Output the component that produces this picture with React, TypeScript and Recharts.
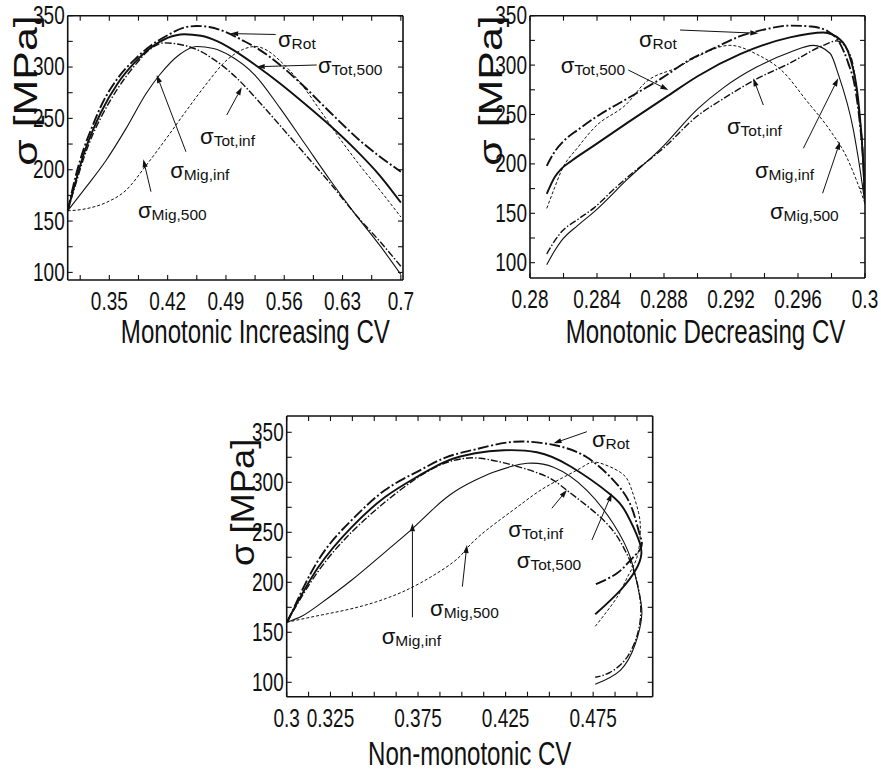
import React from "react";
import { LineChart, Line, XAxis, YAxis, ReferenceLine, ReferenceDot } from "recharts";

type Pt = [number, number];

// ---------- Monotonic increasing CV (x: CV, y: sigma MPa) ----------
const incRot: Pt[] = [[0.3,160],[0.31,195],[0.32,222],[0.33,243],[0.34,262],[0.36,289],[0.38,307],[0.4,321],[0.42,331],[0.44,338.5],[0.455,340],[0.47,339],[0.49,334],[0.51,326],[0.53,317],[0.555,302],[0.58,284],[0.615,256],[0.65,229],[0.7,198]];
const incTot500: Pt[] = [[0.3,160],[0.31,190],[0.32,217],[0.33,238],[0.34,256],[0.36,284],[0.38,304],[0.4,319],[0.42,328.5],[0.44,332],[0.46,330.5],[0.48,325],[0.5,316],[0.527,301],[0.555,284],[0.585,264],[0.615,243],[0.645,220],[0.675,194],[0.7,168]];
const incTotInf: Pt[] = [[0.3,160],[0.31,187],[0.32,213],[0.33,234],[0.34,251],[0.36,279],[0.38,301],[0.4,318],[0.415,323.5],[0.435,322],[0.455,317],[0.478,306],[0.502,290],[0.53,266],[0.555,243],[0.585,215],[0.615,187],[0.645,157],[0.675,130],[0.7,106]];
const incMigInf: Pt[] = [[0.3,160],[0.322,183],[0.346,209],[0.37,240],[0.394,274],[0.41,292],[0.434,312],[0.455,320],[0.475,318],[0.495,311],[0.525,292],[0.555,260],[0.585,225],[0.615,190],[0.645,157],[0.675,126],[0.7,98]];
const incMig500: Pt[] = [[0.3,160],[0.322,162],[0.346,168],[0.37,180],[0.394,204],[0.418,230],[0.442,257],[0.466,283],[0.49,306],[0.51,317],[0.525,320],[0.54,316],[0.555,306],[0.579,285],[0.603,258],[0.627,230],[0.651,204],[0.675,180],[0.7,154]];

// ---------- Monotonic decreasing CV ----------
const decRot: Pt[] = [[0.281,198],[0.2815,213],[0.282,223],[0.2829,235],[0.2839,247],[0.2858,266],[0.2878,286],[0.2896,306],[0.2911,318],[0.2925,329],[0.294,336],[0.2955,340],[0.2968,339],[0.2978,334],[0.2985,322],[0.299,302],[0.2994,278],[0.2997,240],[0.2999,200],[0.3,160]];
const decTot500: Pt[] = [[0.281,169.6],[0.28147,186.5],[0.28187,195],[0.28247,203],[0.28386,219],[0.28585,242],[0.28824,269],[0.29003,289],[0.29254,311],[0.29552,328],[0.29751,333],[0.29851,326],[0.2991,308],[0.2996,264],[0.2999,200],[0.3,160]];
const decTotInf: Pt[] = [[0.281,109],[0.28147,122],[0.28187,131],[0.28287,144],[0.28386,156],[0.28486,172],[0.28585,187],[0.28784,214],[0.29003,249],[0.29154,266],[0.29353,286],[0.29552,302],[0.29751,320],[0.29831,324.5],[0.2991,311],[0.2996,260],[0.2999,200],[0.3,160]];
const decMigInf: Pt[] = [[0.281,98],[0.28147,112],[0.28187,122],[0.28287,138],[0.28386,152],[0.28585,185],[0.28784,216],[0.29003,256],[0.29154,277],[0.29353,298],[0.29552,313],[0.29691,320],[0.29791,312],[0.29842,290],[0.2993,235],[0.2997,195],[0.3,160]];
const decMig500: Pt[] = [[0.281,155],[0.28147,176],[0.28187,193],[0.28287,217],[0.28386,237],[0.28585,262],[0.2868,281],[0.28884,298],[0.29003,309],[0.29194,320],[0.29353,311],[0.29512,293],[0.29651,264],[0.29791,234],[0.2989,207],[0.2995,183],[0.3,160]];

// ---------- Non-monotonic CV (path runs out to ~0.503 and back) ----------
const nonRot: Pt[] = [[0.3,160],[0.303,170],[0.318,222],[0.337,262],[0.356,292],[0.375,311],[0.391,325],[0.408,333],[0.43,340.5],[0.4533,337],[0.4714,325],[0.4866,302],[0.4962,278],[0.5009,252],[0.5028,240],[0.5015,232],[0.4962,222],[0.4886,209],[0.4762,198]];
const nonTot500: Pt[] = [[0.3,160],[0.318,215],[0.337,255],[0.356,285],[0.375,306],[0.391,321],[0.4076,329],[0.4238,332],[0.4429,330],[0.4619,316],[0.4847,288],[0.4943,268],[0.5009,243],[0.5025,228],[0.4995,213],[0.4905,192],[0.4762,168]];
const nonTotInf: Pt[] = [[0.3,160],[0.318,211],[0.337,250],[0.356,280],[0.375,305],[0.39,319],[0.4,323.5],[0.4105,324],[0.4295,317],[0.4486,305.6],[0.46,292],[0.481,262],[0.4923,235],[0.4981,212],[0.5019,182],[0.5009,152],[0.4943,125],[0.4847,110],[0.4762,105]];
const nonMigInf: Pt[] = [[0.3,160],[0.3086,166],[0.318,177],[0.337,202],[0.356,230],[0.372,254],[0.3847,275],[0.3962,291],[0.4076,302],[0.418,310],[0.4285,316],[0.4375,319],[0.4524,315],[0.4714,292],[0.4867,258],[0.4962,225],[0.5009,192],[0.5028,168],[0.499,138],[0.4905,112],[0.4762,98]];
const nonMig500: Pt[] = [[0.3,160],[0.319,167],[0.338,174],[0.357,184],[0.376,199],[0.395,220],[0.4029,234],[0.414,252],[0.433,277],[0.4486,296],[0.4676,314],[0.477,320],[0.4905,310],[0.4965,295],[0.5009,270],[0.5019,250],[0.5,225],[0.4945,205],[0.4886,185],[0.4762,156]];

// ---------- tick values ----------
const incXMajor = [0.35, 0.42, 0.49, 0.56, 0.63, 0.7];
const incXMinor = [0.315, 0.385, 0.455, 0.525, 0.595, 0.665];
const decXMajor = [0.28, 0.284, 0.288, 0.292, 0.296, 0.3];
const decXMinor = [0.282, 0.286, 0.29, 0.294, 0.298];
const nonXMajor = [0.3, 0.325, 0.375, 0.425, 0.475];
const nonXMinor = [0.3125, 0.3375, 0.35, 0.3625, 0.3875, 0.4, 0.4125, 0.4375, 0.45, 0.4625, 0.4875, 0.5];
const yMajor = [100, 150, 200, 250, 300, 350];
const yMinor = [125, 175, 225, 275, 325];

const INK = "#111";
const FONT = "'Liberation Sans', Arial, Helvetica, sans-serif";
const TICK = 5;

const lineStyles: Record<string, { w: number; dash?: string }> = {
  rot: { w: 1.9, dash: "11 2.5 2 2.5" },
  tot500: { w: 1.9 },
  totInf: { w: 1.4, dash: "7 2 1.5 2" },
  migInf: { w: 1.1 },
  mig500: { w: 1.0, dash: "3 2" },
};

type Note = { sub: string; tx: number; ty: number; ax: number; ay: number; bx: number; by: number };

const incNotes: Note[] = [
  { sub: "Rot", tx: 0.5525, ty: 319.5, ax: 0.5497, ay: 331.7, bx: 0.4951, by: 332.6 },
  { sub: "Tot,500", tx: 0.6005, ty: 294.2, ax: 0.599, ay: 302, bx: 0.527, by: 300.3 },
  { sub: "Tot,inf", tx: 0.459, ty: 225, ax: 0.491, ay: 253.3, bx: 0.509, by: 280.3 },
  { sub: "Mig,inf", tx: 0.423, ty: 191.9, ax: 0.442, ay: 217.5, bx: 0.4069, by: 292.2 },
  { sub: "Mig,500", tx: 0.3844, ty: 153, ax: 0.4, ay: 178.6, bx: 0.3908, by: 210.1 },
];
const decNotes: Note[] = [
  { sub: "Rot", tx: 0.28651, ty: 318.3, ax: 0.28896, ay: 335.5, bx: 0.29363, by: 332.2 },
  { sub: "Tot,500", tx: 0.28183, ty: 292, ax: 0.28587, ay: 295, bx: 0.28826, by: 274.8 },
  { sub: "Tot,inf", tx: 0.29176, ty: 230.3, ax: 0.29393, ay: 259.6, bx: 0.29333, by: 286.6 },
  { sub: "Mig,inf", tx: 0.29343, ty: 185.7, ax: 0.29632, ay: 215.8, bx: 0.2984, by: 286.6 },
  { sub: "Mig,500", tx: 0.29433, ty: 144.3, ax: 0.29747, ay: 170.3, bx: 0.29851, by: 222.5 },
];
const nonNotes: Note[] = [
  { sub: "Rot", tx: 0.4743, ty: 335.3, ax: 0.4714, ay: 350.6, bx: 0.4524, by: 339 },
  { sub: "Tot,inf", tx: 0.4265, ty: 245.3, ax: 0.4514, ay: 274, bx: 0.46, by: 292.3 },
  { sub: "Tot,500", tx: 0.4314, ty: 214.3, ax: 0.4743, ay: 242.3, bx: 0.4857, by: 289 },
  { sub: "Mig,500", tx: 0.3819, ty: 166.3, ax: 0.4003, ay: 195.6, bx: 0.4029, by: 237.3 },
  { sub: "Mig,inf", tx: 0.3543, ty: 138.3, ax: 0.3718, ay: 165, bx: 0.3718, by: 259 },
];

const near = (v: number, arr: number[]) => arr.some((m) => Math.abs(m - v) < 1e-7);
const allTicks = (a: number[], b: number[]) => [...a, ...b].sort((p, q) => p - q);

const makeTick = (side: "bottom" | "top" | "left" | "right", major: number[]) => (props: any) => {
  const { x, y, payload } = props;
  const v = payload.value;
  let tick;
  if (side === "bottom") tick = <line x1={x} y1={y} x2={x} y2={y - TICK} stroke={INK} strokeWidth={1.1} />;
  else if (side === "top") tick = <line x1={x} y1={y} x2={x} y2={y + TICK} stroke={INK} strokeWidth={1.1} />;
  else if (side === "left") tick = <line x1={x} y1={y} x2={x + TICK} y2={y} stroke={INK} strokeWidth={1.1} />;
  else tick = <line x1={x} y1={y} x2={x - TICK} y2={y} stroke={INK} strokeWidth={1.1} />;
  let label = null;
  if (side === "bottom" && near(v, major)) {
    label = (
      <text transform={`translate(${x},${y + 22}) scale(0.76,1)`} textAnchor="middle" dominantBaseline="central"
        fontSize={25} fontFamily={FONT} fill={INK}>{String(v)}</text>
    );
  }
  if (side === "left" && near(v, major)) {
    label = (
      <text transform={`translate(${x - 3},${y}) scale(0.76,1)`} textAnchor="end" dominantBaseline="central"
        fontSize={25} fontFamily={FONT} fill={INK}>{String(v)}</text>
    );
  }
  return <g>{tick}{label}</g>;
};

const Arrow = (p: any) => {
  const { x1, y1, x2, y2 } = p;
  if ([x1, y1, x2, y2].some((v) => typeof v !== "number" || isNaN(v))) return null;
  const a = Math.atan2(y2 - y1, x2 - x1);
  const L = 8, W = 2.6;
  const bx = x2 - L * Math.cos(a), by = y2 - L * Math.sin(a);
  const nx = -Math.sin(a) * W, ny = Math.cos(a) * W;
  return (
    <g>
      <line x1={x1} y1={y1} x2={bx} y2={by} stroke={INK} strokeWidth={1} />
      <polygon points={`${x2},${y2} ${bx + nx},${by + ny} ${bx - nx},${by - ny}`} fill={INK} />
    </g>
  );
};

const sigmaLabel = (sub: string) => (p: any) => (
  <text x={p.cx} y={p.cy} fontFamily={FONT} fill={INK}>
    <tspan fontSize={22}>σ</tspan>
    <tspan fontSize={15.5} dy={2}>{sub}</tspan>
  </text>
);

interface PanelProps {
  left: number; top: number; width: number; height: number;
  plot: { top: number; right: number; bottom: number; left: number };
  xDomain: [number, number]; yDomain: [number, number];
  xMajor: number[]; xMinor: number[];
  curve: "monotone" | "natural";
  series: { key: string; pts: Pt[] }[];
  notes: Note[];
  xTitle: string; xTitleDx: number; xTitleDy: number; yTitleDx: number; yTitleStretch: number;
}

// axes get 1px of room each; margins are the plot insets minus that
const Panel: React.FC<PanelProps> = (props) => {
  const { plot, xDomain, yDomain, xMajor, xMinor } = props;
  const margin = { top: plot.top - 1, right: plot.right - 1, bottom: plot.bottom - 1, left: plot.left - 1 };
  const xt = allTicks(xMajor, xMinor);
  const yt = allTicks(yMajor, yMinor);
  const axisLine = { stroke: INK, strokeWidth: 1.6 };
  return (
    <div style={{ position: "absolute", left: props.left, top: props.top }}>
      <LineChart width={props.width} height={props.height} margin={margin}>
        <XAxis xAxisId="b" type="number" dataKey="x" domain={xDomain} allowDataOverflow ticks={xt} interval={0}
          height={1} tickSize={0} tickMargin={0} tickLine={false} axisLine={axisLine} tick={makeTick("bottom", xMajor)}
          label={(p: any) => {
            const vb = p.viewBox || {};
            return (
              <text transform={`translate(${vb.x + vb.width / 2 + props.xTitleDx},${vb.y + props.xTitleDy}) scale(0.73,1)`}
                textAnchor="middle" fontSize={33} fontFamily={FONT} fill={INK}>{props.xTitle}</text>
            );
          }} />
        <XAxis xAxisId="t" orientation="top" type="number" dataKey="x" domain={xDomain} allowDataOverflow ticks={xt}
          interval={0} height={1} tickSize={0} tickMargin={0} tickLine={false} axisLine={axisLine} tick={makeTick("top", xMajor)} />
        <YAxis yAxisId="l" type="number" domain={yDomain} allowDataOverflow ticks={yt} interval={0} width={1}
          tickSize={0} tickMargin={0} tickLine={false} axisLine={axisLine} tick={makeTick("left", yMajor)}
          label={(p: any) => {
            const vb = p.viewBox || {};
            return (
              <text transform={`translate(${vb.x + vb.width - props.yTitleDx},${vb.y + 150}) rotate(-90) scale(${props.yTitleStretch},1)`}
                textAnchor="start" fontSize={33} fontFamily={FONT} fill={INK}>σ [MPa]</text>
            );
          }} />
        <YAxis yAxisId="r" orientation="right" type="number" domain={yDomain} allowDataOverflow ticks={yt} interval={0}
          width={1} tickSize={0} tickMargin={0} tickLine={false} axisLine={axisLine} tick={makeTick("right", yMajor)} />
        {props.series.map((s) => (
          <Line key={s.key} xAxisId="b" yAxisId="l" data={s.pts.map(([x, y]) => ({ x, y }))} dataKey="y"
            type={props.curve} stroke={INK} strokeWidth={lineStyles[s.key].w} strokeDasharray={lineStyles[s.key].dash}
            dot={false} activeDot={false} isAnimationActive={false} />
        ))}
        {props.notes.map((n) => (
          <ReferenceLine key={"a" + n.sub} xAxisId="b" yAxisId="l" ifOverflow="visible"
            segment={[{ x: n.ax, y: n.ay }, { x: n.bx, y: n.by }]} shape={Arrow} />
        ))}
        {props.notes.map((n) => (
          <ReferenceDot key={"t" + n.sub} xAxisId="b" yAxisId="l" x={n.tx} y={n.ty} ifOverflow="visible"
            shape={sigmaLabel(n.sub)} />
        ))}
      </LineChart>
    </div>
  );
};

export default function App() {
  return (
    <div style={{ position: "absolute", left: 0, top: 0, width: 881, height: 771, background: "#fff" }}>
      <Panel left={0} top={0} width={440} height={370}
        plot={{ top: 15.7, left: 67.7, right: 37, bottom: 90 }}
        xDomain={[0.3, 0.7026]} yDomain={[92.6, 350]} xMajor={incXMajor} xMinor={incXMinor} curve="monotone"
        series={[{ key: "rot", pts: incRot }, { key: "tot500", pts: incTot500 }, { key: "totInf", pts: incTotInf },
          { key: "migInf", pts: incMigInf }, { key: "mig500", pts: incMig500 }]}
        notes={incNotes} xTitle="Monotonic Increasing CV" xTitleDx={20} xTitleDy={63} yTitleDx={31} yTitleStretch={1.3} />
      <Panel left={440} top={0} width={441} height={370}
        plot={{ top: 15.7, left: 90, right: 16, bottom: 92 }}
        xDomain={[0.28, 0.3]} yDomain={[84.5, 350]} xMajor={decXMajor} xMinor={decXMinor} curve="monotone"
        series={[{ key: "rot", pts: decRot }, { key: "tot500", pts: decTot500 }, { key: "totInf", pts: decTotInf },
          { key: "migInf", pts: decMigInf }, { key: "mig500", pts: decMig500 }]}
        notes={decNotes} xTitle="Monotonic Decreasing CV" xTitleDx={8} xTitleDy={65} yTitleDx={28} yTitleStretch={1.3} />
      <Panel left={220} top={380} width={440} height={391}
        plot={{ top: 36, left: 66.7, right: 7.3, bottom: 74.3 }}
        xDomain={[0.3, 0.509]} yDomain={[85.6, 366.3]} xMajor={nonXMajor} xMinor={nonXMinor} curve="natural"
        series={[{ key: "rot", pts: nonRot }, { key: "tot500", pts: nonTot500 }, { key: "totInf", pts: nonTotInf },
          { key: "migInf", pts: nonMigInf }, { key: "mig500", pts: nonMig500 }]}
        notes={nonNotes} xTitle="Non-monotonic CV" xTitleDx={0} xTitleDy={68} yTitleDx={33} yTitleStretch={1.1} />
    </div>
  );
}
